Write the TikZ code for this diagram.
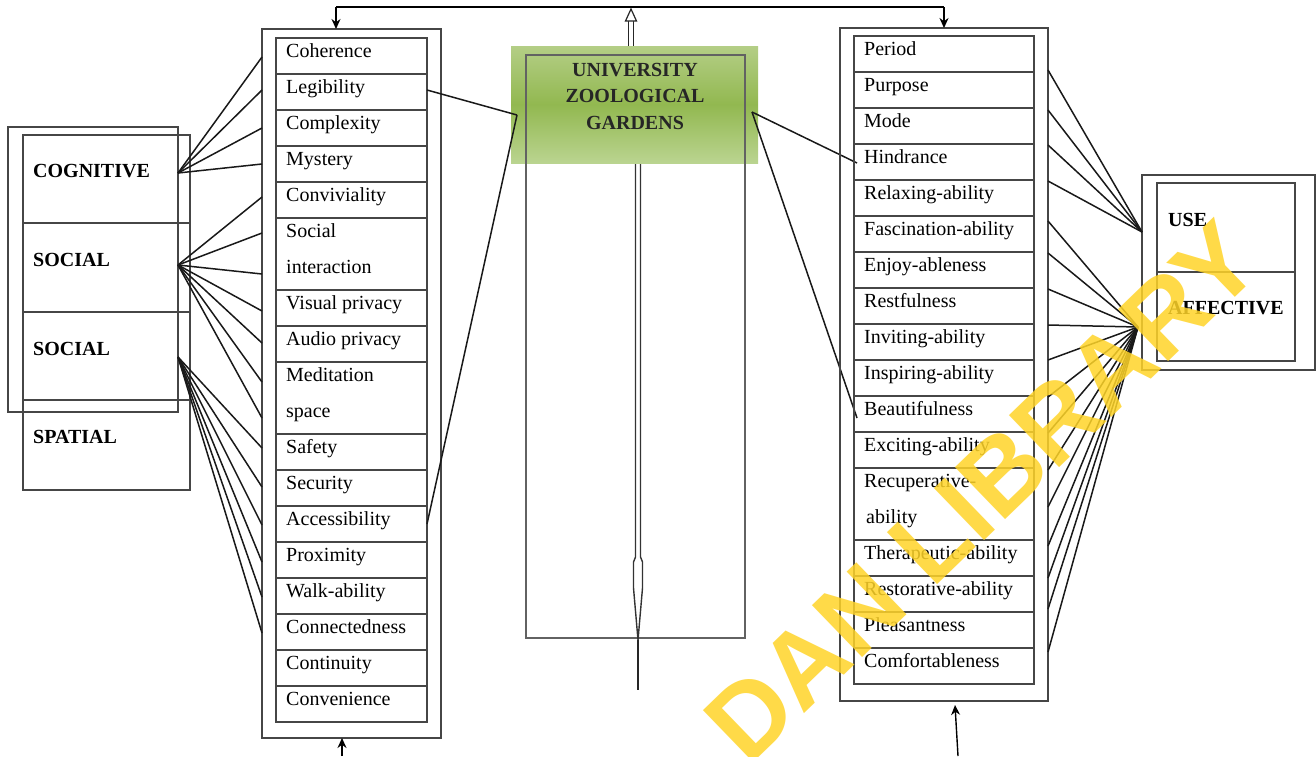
\documentclass[tikz,border=0pt]{standalone}
\usepackage{fontspec}
\setmainfont{Liberation Serif}
\newfontfamily\wmfont{Liberation Sans}
\usetikzlibrary{arrows.meta,calc}
\definecolor{boxline}{RGB}{70,70,70}
\definecolor{gtop}{RGB}{180,206,134}
\definecolor{gmid}{RGB}{146,184,80}
\definecolor{gbot}{RGB}{186,212,144}
\definecolor{wm}{RGB}{255,212,40}
\newcommand{\listrow}[6]{%
  \node[rowbox, minimum width=#5pt, minimum height=#4pt] (#1) at (#2,#3) {};
  \node[itemtext] (#1-t) at ($(#2,#3)+(10,19)$) {#6};
}
\begin{document}
\begin{tikzpicture}[x=1pt,y=-1pt,
  box/.style={draw=boxline, line width=1.5pt, inner sep=0pt, outer sep=0pt, anchor=north west},
  rowbox/.style={draw=boxline, line width=1.5pt, inner sep=0pt, outer sep=0pt, anchor=north west},
  itemtext/.style={font=\fontsize{20}{24}\selectfont, anchor=base west, inner sep=0pt},
  cattext/.style={font=\fontsize{20}{24}\selectfont\bfseries, anchor=base west, inner sep=0pt},
  fan/.style={draw=black!90, line width=1.5pt},
  arr/.style={draw=black, line width=1.4pt, -{Stealth[length=10pt,width=9pt]}}]
\useasboundingbox (0,0) rectangle (1316,756);
\clip (0,0) rectangle (1316,756);
\fill[white] (0,0) rectangle (1316,756);

% ---------- left category column ----------
\node[box, minimum width=170pt, minimum height=285pt] (catout) at (8,127) {};
\node[box, minimum width=167pt, minimum height=88pt] (cog) at (23,135) {};
\node[box, minimum width=167pt, minimum height=89pt] (soc1) at (23,223) {};
\node[box, minimum width=167pt, minimum height=88pt] (soc2) at (23,312) {};
\node[box, minimum width=167pt, minimum height=90pt] (spa) at (23,400) {};
\node[cattext] (cog-t) at (33,177) {COGNITIVE};
\node[cattext] (soc1-t) at (33,266) {SOCIAL};
\node[cattext] (soc2-t) at (33,355) {SOCIAL};
\node[cattext] (spa-t) at (33,443) {SPATIAL};
\coordinate (cogP) at (178,173);
\coordinate (soc1P) at (178,265);
\coordinate (soc2P) at (178,357);

% ---------- left list ----------
\node[box, minimum width=179pt, minimum height=709pt] (lout) at (262,29) {};
\listrow{coh}{276}{38}{36}{151}{Coherence}
\listrow{leg}{276}{74}{36}{151}{Legibility}
\listrow{cpx}{276}{110}{36}{151}{Complexity}
\listrow{mys}{276}{146}{36}{151}{Mystery}
\listrow{con}{276}{182}{36}{151}{Conviviality}
\listrow{soc}{276}{218}{72}{151}{Social}
\node[itemtext] (soc-t2) at (286,273) {interaction};
\listrow{vis}{276}{290}{36}{151}{Visual privacy}
\listrow{aud}{276}{326}{36}{151}{Audio privacy}
\listrow{med}{276}{362}{72}{151}{Meditation}
\node[itemtext] (med-t2) at (286,417) {space};
\listrow{saf}{276}{434}{36}{151}{Safety}
\listrow{sec}{276}{470}{36}{151}{Security}
\listrow{acc}{276}{506}{36}{151}{Accessibility}
\listrow{pro}{276}{542}{36}{151}{Proximity}
\listrow{wal}{276}{578}{36}{151}{Walk-ability}
\listrow{cnd}{276}{614}{36}{151}{Connectedness}
\listrow{cnt}{276}{650}{36}{151}{Continuity}
\listrow{cnv}{276}{686}{36}{151}{Convenience}

% left fans
\foreach \y in {57,90,128,164} \draw[fan] (cogP) -- (lout.west |- 0,\y);
\foreach \y in {197,233,274,311,343,382,418} \draw[fan] (soc1P) -- (lout.west |- 0,\y);
\foreach \y in {448,487,525,562,597,633} \draw[fan] (soc2P) -- (lout.west |- 0,\y);

% ---------- centre ----------
\node[box, draw=none, minimum width=247pt, minimum height=117pt,
      top color=gtop, bottom color=gbot, middle color=gmid] (zoo) at (511,46) {};
\node[box, draw=boxline!85, minimum width=219pt, minimum height=583pt] (zooin) at (526,55) {};
\node[font=\fontsize{20}{26.5}\selectfont\bfseries, align=center, inner sep=0pt, text=black!85] (zoo-t) at (635,96)
  {UNIVERSITY\\ZOOLOGICAL\\GARDENS};
\coordinate (zooW) at (517,115);
\coordinate (zooE) at (752,112);
\draw[fan] (leg.east) ++(0,-2) coordinate (legE) -- (zooW);
\draw[fan] (zooW) -- (acc.east);
\draw[fan] (zooE) -- (857,163) coordinate (hinW);
\draw[fan] (zooE) -- (857,418) coordinate (beaW);

% centre double arrow (down)
\draw[black!80, line width=1.4pt, fill=white]
  (635.5,164) -- (635.5,557) -- (633.5,562) -- (633.5,588) -- (638,640) -- (642.5,588) -- (642.5,562) -- (640.5,557) -- (640.5,164);
\draw[black!85, line width=1.3pt] (638,640) -- (638,690) coordinate (tip);

% top connection
\coordinate (topL) at (336,7);
\coordinate (topR) at (944,7);
\draw[black, line width=1.4pt] (topL) -- (topR);
\draw[black!85, line width=1.2pt, double, double distance=3.5pt] (zoo.north -| 631,0) -- (631,20);
\draw[black!85, line width=1.2pt, fill=white] (625.5,21) -- (631,9) -- (636.5,21) -- cycle;

% ---------- right list ----------
\node[box, minimum width=208pt, minimum height=673pt] (rout) at (840,28) {};
\listrow{per}{854}{36}{36}{180}{Period}
\listrow{pur}{854}{72}{36}{180}{Purpose}
\listrow{mod}{854}{108}{36}{180}{Mode}
\listrow{hin}{854}{144}{36}{180}{Hindrance}
\listrow{rel}{854}{180}{36}{180}{Relaxing-ability}
\listrow{fas}{854}{216}{36}{180}{Fascination-ability}
\listrow{enj}{854}{252}{36}{180}{Enjoy-ableness}
\listrow{res}{854}{288}{36}{180}{Restfulness}
\listrow{inv}{854}{324}{36}{180}{Inviting-ability}
\listrow{ins}{854}{360}{36}{180}{Inspiring-ability}
\listrow{bea}{854}{396}{36}{180}{Beautifulness}
\listrow{exc}{854}{432}{36}{180}{Exciting-ability}
\listrow{rec}{854}{468}{72}{180}{Recuperative-}
\node[itemtext] (rec-t2) at (866,523) {ability};
\listrow{the}{854}{540}{36}{180}{Therapeutic-ability}
\listrow{rst}{854}{576}{36}{180}{Restorative-ability}
\listrow{ple}{854}{612}{36}{180}{Pleasantness}
\listrow{com}{854}{648}{36}{180}{Comfortableness}

% top down arrows
\draw[arr] (topL) -- (lout.north -| topL);
\draw[arr] (topR) -- (rout.north -| topR);

% ---------- right category ----------
\node[box, minimum width=173pt, minimum height=195pt] (rcat) at (1142,175) {};
\node[box, minimum width=138pt, minimum height=89pt] (use) at (1157,183) {};
\node[box, minimum width=138pt, minimum height=89pt] (aff) at (1157,272) {};
\node[cattext] (use-t) at (1168,226) {USE};
\node[cattext] (aff-t) at (1168,314) {AFFECTIVE};
\coordinate (useP) at (1142,232);
\coordinate (affP) at (1138,327);
\foreach \y in {70,110,145,181} \draw[fan] (rout.east |- 0,\y) -- (useP);
\foreach \y in {221,253,289,325,360,397,433,470,507,546,578,609,652} \draw[fan] (rout.east |- 0,\y) -- (affP);

% bottom arrows
\coordinate (botL) at (342,756);
\coordinate (botR) at (958,756);
\draw[arr] (botL) -- (lout.south -| botL);
\draw[arr] (botR) -- (955,705);

% watermark
\node[rotate=44, font=\wmfont\bfseries\fontsize{105}{105}\selectfont, text=wm, opacity=0.85, inner sep=0pt]
  (wmark) at (982,492) {DAN LIBRARY};
\end{tikzpicture}
\end{document}
